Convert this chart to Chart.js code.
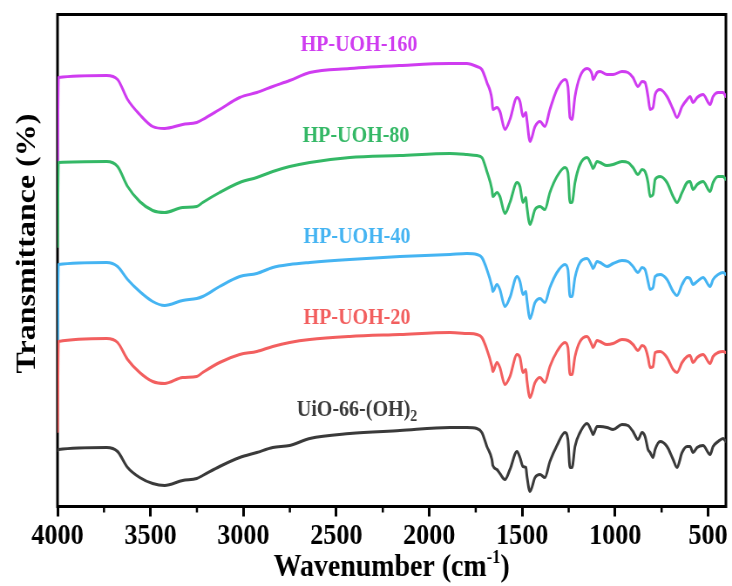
<!DOCTYPE html>
<html><head><meta charset="utf-8">
<script src="https://cdn.jsdelivr.net/npm/chart.js@4.4.1/dist/chart.umd.min.js"></script>
<style>html,body{margin:0;padding:0;background:#fff;}canvas{display:block;}</style>
</head><body>
<canvas id="c" width="840" height="586" style="width:732px;height:586px"></canvas>
<script>
// Horizontal condensing of the original figure (rendered wide, displayed at 732px)
const SQ = 732 / 840;

// Wavenumber (cm-1) positions
const wavenumbers = [4000,3995,3736,3677,3623,3558,3488,3424,3327,3251,3219,3128,3020,2928,2842,2751,2643,2428,2158,1889,1798,1744,1717,1690,1663,1658,1636,1620,1593,1566,1528,1512,1496,1480,1475,1458,1431,1404,1378,1351,1313,1270,1254,1243,1232,1216,1189,1151,1124,1119,1097,1081,1044,1011,963,931,904,877,855,839,823,812,796,785,758,721,688,667,640,613,597,581,559,527,489,473,446,419,404];

// Transmittance (stacked, arbitrary units) for each sample
const hpUoh160 = [344,429,431,427,407,392,380,378,382,384,387,397,409,414,420,426,434,438,441,443,443,440,437,424,407,397,399,395,377,387,409,405,390,394,387,365,380,385,380,397,417,427,420,389,387,410,430,438,432,427,434,435,432,432,435,434,429,420,425,424,410,397,399,412,417,410,397,389,400,407,410,404,409,412,402,410,414,414,410];
const hpUoh80 = [260,344,345,340,320,305,296,294,299,300,304,314,324,329,335,340,344,349,351,353,352,351,349,335,317,310,314,310,293,304,324,320,304,309,300,282,297,300,297,314,330,339,334,304,304,324,342,349,340,338,345,344,341,342,345,344,339,332,337,335,324,310,312,327,330,324,310,304,314,324,325,317,322,325,315,324,330,330,327];
const hpUoh40 = [164,242,244,240,227,215,205,201,206,208,210,220,230,233,239,242,244,247,250,252,253,252,249,237,220,215,222,217,200,209,230,225,212,215,207,188,204,208,204,219,234,242,237,210,210,229,244,248,240,238,245,244,240,243,246,245,240,234,239,237,225,217,219,230,232,227,215,211,222,229,228,222,225,229,220,227,232,234,232];
const hpUoh20 = [75,165,168,164,147,134,125,123,129,130,134,144,152,155,160,164,167,170,172,174,173,172,169,157,140,135,144,139,122,130,152,149,134,137,127,109,124,129,124,140,155,164,159,132,132,150,165,170,161,159,166,165,162,163,167,166,162,156,161,159,149,139,140,154,155,149,137,134,144,150,151,144,149,152,143,150,154,155,154];
const uio66 = [56,57,59,55,39,29,23,21,26,28,31,40,49,54,59,61,68,73,76,79,79,78,74,60,47,41,37,33,27,37,55,49,40,39,31,15,29,32,29,45,61,74,67,39,39,60,74,83,74,72,80,80,79,77,82,81,75,67,74,70,57,54,49,57,65,60,47,39,54,60,60,54,59,61,52,60,65,68,65];

const seriesNames = ['UiO-66-(OH)2','HP-UOH-20','HP-UOH-40','HP-UOH-80','HP-UOH-160'];
const seriesColors = ['#3a3a3a','#f25f5f','#45b4f2','#34b866','#cf3cf0'];
const seriesValues = [uio66, hpUoh20, hpUoh40, hpUoh80, hpUoh160];

const xTickValues = [4000,3500,3000,2500,2000,1500,1000,500];
const xMinorTickValues = [3750,3250,2750,2250,1750,1250,750];

const SERIF = "'Liberation Serif','Times New Roman',serif";

// sample labels: [text, subscript, colorIndex, refX, refY]
const sampleLabels = [
  ['HP-UOH-160', '', 4, 359, 45.5],
  ['HP-UOH-80', '', 3, 356, 136.5],
  ['HP-UOH-40', '', 2, 357, 237],
  ['HP-UOH-20', '', 1, 357, 318],
  ['UiO-66-(OH)', '2', 0, 357, 410]
];

const datasets = seriesValues.map((vals, i) => ({
  label: seriesNames[i],
  data: vals.map((v, j) => ({x: wavenumbers[j], y: v})),
  borderColor: seriesColors[i],
  borderWidth: 3,
  pointRadius: 0,
  cubicInterpolationMode: 'monotone',
  borderJoinStyle: 'round',
  borderCapStyle: 'round',
  fill: false
}));

const decor = {
  id: 'decor',
  beforeDatasetsDraw(chart) {
    const {ctx, chartArea: a, scales} = chart;
    ctx.save();
    ctx.strokeStyle = '#000';
    ctx.lineWidth = 3;
    ctx.strokeRect(a.left, a.top, a.right - a.left, a.bottom - a.top);
    // minor ticks
    ctx.lineWidth = 2.5;
    xMinorTickValues.forEach(v => {
      const px = scales.x.getPixelForValue(v);
      ctx.beginPath();
      ctx.moveTo(px, a.bottom);
      ctx.lineTo(px, a.bottom + 6);
      ctx.stroke();
    });
    ctx.restore();
  },
  afterDraw(chart) {
    const {ctx, chartArea: a} = chart;
    ctx.save();
    ctx.fillStyle = '#000';
    // x title
    ctx.font = `bold 32px ${SERIF}`;
    ctx.textBaseline = 'alphabetic';
    const t1 = 'Wavenumber (cm', sup = '-1', t2 = ')';
    const w1 = ctx.measureText(t1).width;
    const w3 = ctx.measureText(t2).width;
    ctx.font = `bold 19px ${SERIF}`;
    const w2 = ctx.measureText(sup).width;
    const total = w1 + w2 + w3;
    let x0 = (a.left + a.right) / 2 - total / 2;
    const by = 576;
    ctx.font = `bold 32px ${SERIF}`;
    ctx.textAlign = 'left';
    ctx.fillText(t1, x0, by);
    ctx.font = `bold 19px ${SERIF}`;
    ctx.fillText(sup, x0 + w1, by - 13);
    ctx.font = `bold 32px ${SERIF}`;
    ctx.fillText(t2, x0 + w1 + w2, by);
    // y title
    ctx.save();
    ctx.translate(28 / SQ, 243.5);
    ctx.rotate(-Math.PI / 2);
    ctx.textAlign = 'center';
    ctx.textBaseline = 'middle';
    ctx.font = `bold 32px ${SERIF}`;
    ctx.fillText('Transmittance (%)', 0, 0);
    ctx.restore();
    // sample labels
    sampleLabels.forEach(([txt, sub, ci, rx, ry]) => {
      ctx.fillStyle = seriesColors[ci];
      ctx.font = `bold 23px ${SERIF}`;
      const wa = ctx.measureText(txt).width;
      ctx.font = `bold 16px ${SERIF}`;
      const wb = sub ? ctx.measureText(sub).width : 0;
      const sx = rx / SQ - (wa + wb) / 2;
      ctx.textAlign = 'left';
      ctx.textBaseline = 'middle';
      ctx.font = `bold 23px ${SERIF}`;
      ctx.fillText(txt, sx, ry);
      if (sub) {
        ctx.font = `bold 16px ${SERIF}`;
        ctx.fillText(sub, sx + wa, ry + 7);
      }
    });
    ctx.restore();
  }
};

new Chart(document.getElementById('c'), {
  type: 'line',
  data: {datasets},
  options: {
    responsive: false,
    animation: false,
    devicePixelRatio: 1,
    layout: {padding: {left: 0, right: 7, top: 14.5, bottom: 0}},
    plugins: {legend: {display: false}, tooltip: {enabled: false}},
    scales: {
      x: {
        type: 'linear',
        reverse: true,
        min: 404,
        max: 4000,
        afterBuildTicks: s => { s.ticks = xTickValues.map(v => ({value: v})); },
        afterFit: s => { s.height = 79.5; },
        border: {display: false},
        grid: {display: true, drawOnChartArea: false, drawTicks: true, tickLength: 10, tickWidth: 3, tickColor: '#000'},
        ticks: {autoSkip: false, maxRotation: 0, padding: 2, color: '#000',
          font: {family: SERIF, weight: 'bold', size: 30},
          callback: v => String(v)}
      },
      y: {
        type: 'linear',
        min: 0,
        max: 492,
        afterFit: s => { s.width = 66; },
        border: {display: false},
        grid: {display: false, drawTicks: false},
        ticks: {display: false}
      }
    }
  },
  plugins: [decor]
});
</script>
</body></html>
